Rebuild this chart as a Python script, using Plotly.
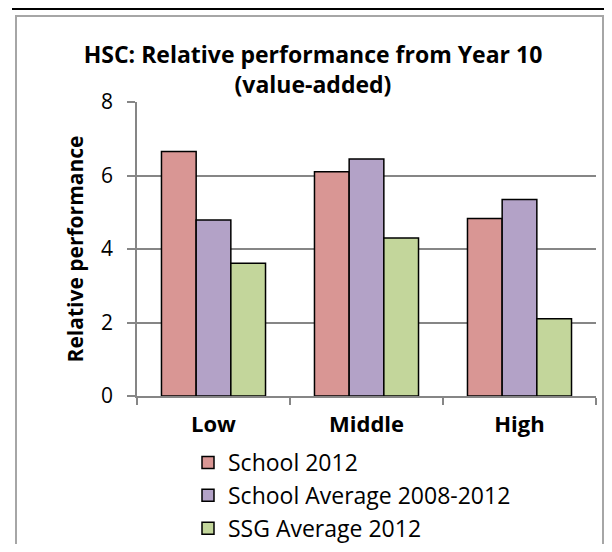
import plotly.graph_objects as go

categories = ["Low", "Middle", "High"]
school_2012 = [6.65, 6.1, 4.83]
school_avg_2008_2012 = [4.79, 6.45, 5.35]
ssg_avg_2012 = [3.61, 4.3, 2.1]

series = [
    ("School 2012", school_2012, "#D99694"),
    ("School Average 2008-2012", school_avg_2008_2012, "#B3A2C7"),
    ("SSG Average 2012", ssg_avg_2012, "#C3D69B"),
]

FONT = "Open Sans, Liberation Sans, sans-serif"
GRID = "#868686"

fig = go.Figure()
for name, vals, color in series:
    fig.add_trace(go.Bar(
        x=categories,
        y=vals,
        name=name,
        marker=dict(color=color, line=dict(color="black", width=1.5)),
    ))

# page has an 8px body margin, so figure coords = page coords - 8
OFF = 8
W, H = 604, 536
L, T = 137 - OFF, 102 - OFF
R, B = W - (596 - OFF), H - (396 - OFF)
pw, ph = W - L - R, H - T - B


def px(x):
    return (x - OFF - L) / pw


def py(y):
    return (H - B - (y - OFF)) / ph


fig.update_layout(
    width=W, height=H,
    margin=dict(l=L, r=R, t=T, b=B, autoexpand=False),
    paper_bgcolor="white",
    plot_bgcolor="white",
    font=dict(family=FONT, size=18, color="black"),
    barmode="group",
    bargap=0.32,
    bargroupgap=0,
    title=dict(
        text="<b>HSC: Relative performance from Year 10<br>(value-added)</b>",
        x=px(313), xanchor="center", xref="paper",
        y=1 - (63 - OFF) / H, yanchor="middle",
        font=dict(size=23, family=FONT),
    ),
    xaxis=dict(
        showline=True, linecolor=GRID, linewidth=1.5,
        ticks="outside", ticklen=7, tickcolor=GRID, tickwidth=1.5,
        tickson="boundaries",
        tickfont=dict(size=22, family=FONT),
        tickprefix="<b>", ticksuffix="</b>",
        ticklabelstandoff=8,
        showgrid=False,
    ),
    yaxis=dict(
        range=[0, 8], dtick=2,
        showline=True, linecolor=GRID, linewidth=1.5,
        ticks="outside", ticklen=8, tickcolor=GRID, tickwidth=1.5,
        showgrid=True, gridcolor=GRID, gridwidth=1.5,
        zeroline=False,
        tickfont=dict(size=21, family=FONT),
        ticklabelstandoff=10,
        title=dict(text="<b>Relative performance</b>", font=dict(size=21, family=FONT), standoff=12),
    ),
    legend=dict(
        x=px(188), xanchor="left",
        y=py(441), yanchor="top",
        font=dict(size=23, family=FONT),
        itemwidth=30,
        tracegroupgap=0,
    ),
    shapes=[
        dict(type="rect", xref="paper", yref="paper",
             x0=px(16), x1=px(603), y0=py(600), y1=py(16),
             line=dict(color="#A6A6A6", width=2)),
        dict(type="line", xref="paper", yref="paper",
             x0=px(12), x1=px(612), y0=py(9), y1=py(9),
             line=dict(color="black", width=2)),
    ],
)

fig.write_html("out.html")
